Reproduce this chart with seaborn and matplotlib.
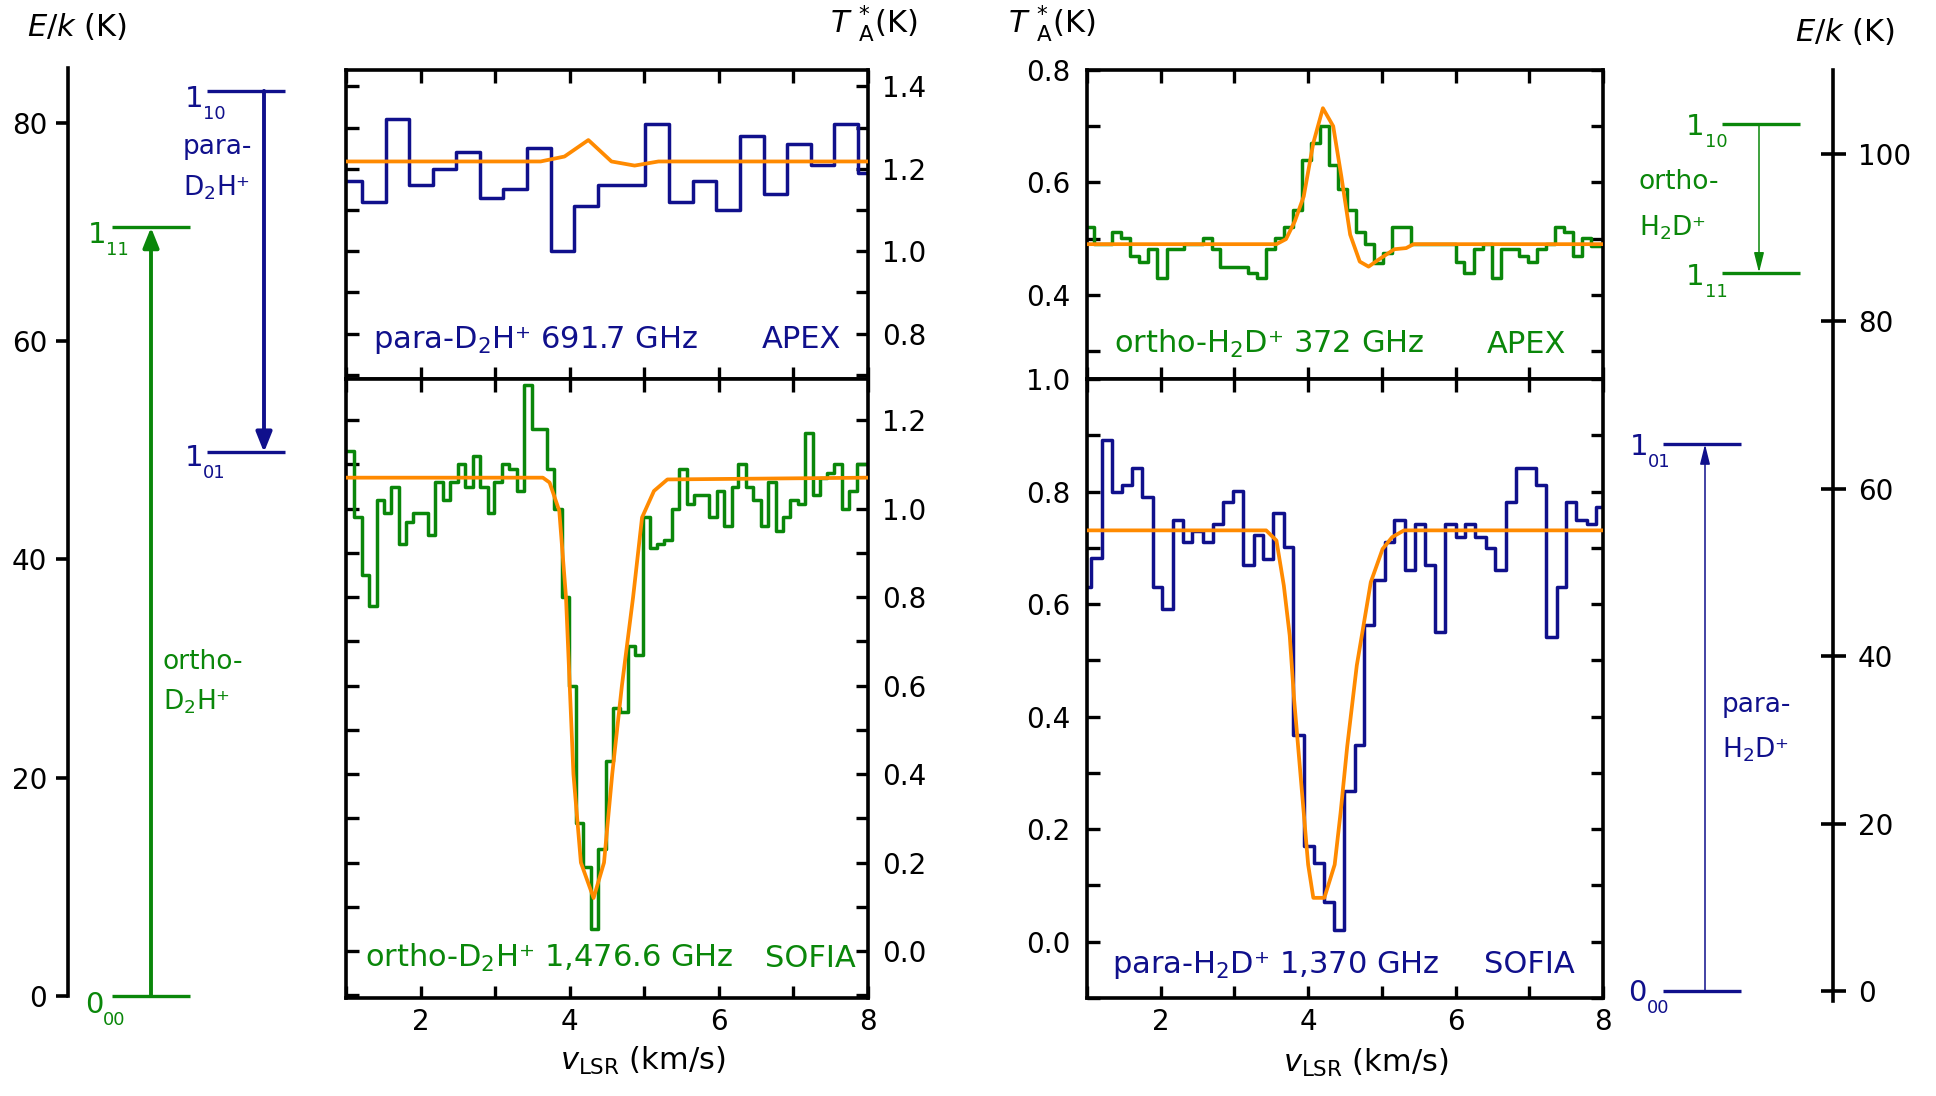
import matplotlib
matplotlib.use("Agg")
import matplotlib.pyplot as plt
from matplotlib.ticker import MultipleLocator, FixedLocator, FormatStrFormatter
import pandas as pd
import seaborn as sns

# ---------------- data ----------------
# para-D2H+ 691.7 GHz (APEX): channel edges (km/s) and antenna temperature (K)
pD2H_edges = [0.90, 1.21, 1.53, 1.85, 2.16, 2.48, 2.80, 3.11, 3.43, 3.75, 4.06, 4.38,
              4.70, 5.01, 5.33, 5.65, 5.96, 6.28, 6.60, 6.91, 7.23, 7.55, 7.86, 8.18]
pD2H_T = [1.17, 1.12, 1.32, 1.16, 1.20, 1.24, 1.13, 1.15, 1.25, 1.00, 1.11, 1.16,
          1.16, 1.31, 1.12, 1.17, 1.10, 1.28, 1.14, 1.26, 1.21, 1.31, 1.19]
pD2H_fit_v = [1.0, 3.61, 3.93, 4.25, 4.56, 4.87, 5.19, 8.0]
pD2H_fit_T = [1.218, 1.218, 1.23, 1.27, 1.218, 1.208, 1.218, 1.218]

# ortho-D2H+ 1,476.6 GHz (SOFIA)
oD2H_edges = [0.91, 1.01, 1.11, 1.21, 1.31, 1.41, 1.51, 1.61, 1.71, 1.81, 1.90, 2.00,
              2.10, 2.20, 2.30, 2.40, 2.50, 2.60, 2.70, 2.80, 2.90, 2.99, 3.09, 3.19,
              3.29, 3.39, 3.49, 3.59, 3.69, 3.79, 3.89, 3.99, 4.09, 4.18, 4.28, 4.38,
              4.48, 4.58, 4.68, 4.78, 4.88, 4.98, 5.08, 5.17, 5.27, 5.37, 5.47, 5.57,
              5.67, 5.77, 5.87, 5.97, 6.07, 6.17, 6.26, 6.36, 6.46, 6.56, 6.66, 6.76,
              6.86, 6.96, 7.06, 7.16, 7.26, 7.36, 7.45, 7.55, 7.65, 7.75, 7.85, 7.95, 8.05]
oD2H_T = [1.13, 1.13, 0.98, 0.85, 0.78, 1.02, 0.99, 1.05, 0.92, 0.97, 0.99, 0.99,
          0.94, 1.06, 1.02, 1.06, 1.10, 1.05, 1.12, 1.05, 0.99, 1.06, 1.10, 1.09,
          1.04, 1.28, 1.18, 1.18, 1.09, 1.00, 0.80, 0.60, 0.29, 0.19, 0.05, 0.23,
          0.43, 0.55, 0.54, 0.69, 0.67, 0.98, 0.91, 0.92, 0.93, 1.00, 1.09, 1.01,
          1.03, 1.03, 0.98, 1.04, 0.96, 1.05, 1.10, 1.05, 1.02, 0.96, 1.06, 0.95,
          0.98, 1.02, 1.01, 1.17, 1.03, 1.07, 1.08, 1.10, 1.00, 1.04, 1.10, 1.10]
oD2H_fit_v = [1.0, 3.64, 3.73, 3.86, 3.95, 4.00, 4.05, 4.15, 4.32, 4.46, 4.57, 4.70,
              4.85, 4.97, 5.13, 5.31, 8.0]
oD2H_fit_T = [1.07, 1.07, 1.059, 0.995, 0.80, 0.60, 0.40, 0.20, 0.12, 0.20, 0.40, 0.60,
              0.80, 0.98, 1.04, 1.066, 1.07]

# ortho-H2D+ 372 GHz (APEX)
oH2D_edges = [0.97, 1.10, 1.22, 1.34, 1.46, 1.59, 1.71, 1.83, 1.95, 2.08, 2.20, 2.32,
              2.44, 2.57, 2.69, 2.81, 2.94, 3.06, 3.18, 3.30, 3.43, 3.55, 3.67, 3.79,
              3.92, 4.04, 4.16, 4.28, 4.41, 4.53, 4.65, 4.77, 4.90, 5.02, 5.14, 5.26,
              5.39, 5.51, 5.63, 5.75, 5.88, 6.00, 6.12, 6.25, 6.37, 6.49, 6.61, 6.74,
              6.86, 6.98, 7.10, 7.23, 7.35, 7.47, 7.59, 7.72, 7.84, 7.96, 8.08]
oH2D_T = [0.520, 0.490, 0.490, 0.511, 0.501, 0.469, 0.459, 0.481, 0.430, 0.481, 0.481, 0.490,
          0.490, 0.501, 0.481, 0.450, 0.450, 0.450, 0.439, 0.430, 0.481, 0.501, 0.520, 0.551,
          0.640, 0.670, 0.700, 0.631, 0.588, 0.551, 0.511, 0.490, 0.456, 0.475, 0.520, 0.520,
          0.490, 0.490, 0.490, 0.490, 0.490, 0.459, 0.439, 0.481, 0.490, 0.430, 0.481, 0.481,
          0.469, 0.459, 0.481, 0.490, 0.520, 0.511, 0.469, 0.501, 0.486, 0.486]
oH2D_fit_v = [1.0, 3.57, 3.70, 3.82, 3.94, 4.07, 4.20, 4.34, 4.45, 4.57, 4.70, 4.82,
              4.95, 5.17, 5.33, 5.43, 8.0]
oH2D_fit_T = [0.49, 0.49, 0.499, 0.531, 0.575, 0.67, 0.732, 0.70, 0.611, 0.507, 0.459, 0.45,
              0.462, 0.481, 0.483, 0.49, 0.49]

# para-H2D+ 1,370 GHz (SOFIA)
pH2D_edges = [0.93, 1.06, 1.20, 1.34, 1.48, 1.61, 1.75, 1.89, 2.02, 2.16, 2.30, 2.43,
              2.57, 2.71, 2.85, 2.98, 3.12, 3.26, 3.39, 3.53, 3.67, 3.80, 3.94, 4.08,
              4.22, 4.35, 4.49, 4.63, 4.76, 4.90, 5.04, 5.17, 5.31, 5.45, 5.59, 5.72,
              5.86, 6.00, 6.13, 6.27, 6.41, 6.54, 6.68, 6.82, 6.96, 7.09, 7.23, 7.37,
              7.50, 7.64, 7.78, 7.91, 8.05]
pH2D_T = [0.630, 0.682, 0.892, 0.800, 0.812, 0.841, 0.791, 0.630, 0.592, 0.750, 0.710, 0.729,
          0.710, 0.743, 0.782, 0.801, 0.670, 0.723, 0.680, 0.762, 0.701, 0.368, 0.170, 0.140,
          0.070, 0.021, 0.268, 0.350, 0.562, 0.642, 0.711, 0.750, 0.660, 0.743, 0.670, 0.550,
          0.743, 0.720, 0.743, 0.720, 0.700, 0.660, 0.782, 0.841, 0.841, 0.811, 0.541, 0.630,
          0.782, 0.750, 0.743, 0.773]
pH2D_fit_v = [1.0, 3.43, 3.57, 3.67, 3.75, 3.81, 4.00, 4.07, 4.22, 4.36, 4.44, 4.53,
              4.66, 4.85, 5.01, 5.14, 5.30, 8.0]
pH2D_fit_T = [0.731, 0.731, 0.713, 0.633, 0.544, 0.43, 0.137, 0.078, 0.078, 0.137, 0.229, 0.347,
              0.491, 0.639, 0.698, 0.719, 0.731, 0.731]

# energy levels E/k (K) and their J_KaKc labels
D2H_ortho_E = [0.0, 70.4]                 # 0_00, 1_11
D2H_ortho_lab = [('0', '00'), ('1', '11')]
D2H_para_E = [49.8, 82.9]                 # 1_01, 1_10
D2H_para_lab = [('1', '01'), ('1', '10')]
H2D_ortho_E = [85.8, 103.5]               # 1_11, 1_10
H2D_ortho_lab = [('1', '11'), ('1', '10')]
H2D_para_E = [0.0, 65.3]                  # 0_00, 1_01
H2D_para_lab = [('0', '00'), ('1', '01')]

# ---------------- style ----------------
NAVY = '#10108c'
GREEN = '#0a870a'
ORANGE = '#ff8a00'
W, H = 1936, 1096
D2H = 'D$_2$H\u207a'
H2D = 'H$_2$D\u207a'

sns.set_style('ticks')
plt.rcParams['font.family'] = ['DejaVu Sans']
plt.rcParams['mathtext.fontset'] = 'dejavusans'

fig = plt.figure(figsize=(W / 100, H / 100), dpi=100)


def fx(px):
    return px / W


def fy(py):
    return 1 - py / H


def spectrum(ax, edges, T, color):
    df = pd.DataFrame({'v': edges, 'T': list(T) + [T[-1]]})
    sns.lineplot(data=df, x='v', y='T', ax=ax, color=color, lw=2.5,
                 drawstyle='steps-post', estimator=None, sort=False, legend=False)


def fitline(ax, v, T):
    df = pd.DataFrame({'v': v, 'T': T})
    sns.lineplot(data=df, x='v', y='T', ax=ax, color=ORANGE, lw=2.7,
                 estimator=None, sort=False, legend=False, zorder=4)


def style_panel(ax, ylim, label_side, show_x):
    ax.set_xlim(1, 8)
    ax.set_ylim(*ylim)
    ax.set_xlabel('')
    ax.set_ylabel('')
    ax.xaxis.set_major_locator(FixedLocator([2, 4, 6, 8]))
    ax.xaxis.set_minor_locator(FixedLocator([1, 3, 5, 7]))
    ax.yaxis.set_major_locator(MultipleLocator(0.2))
    ax.yaxis.set_minor_locator(MultipleLocator(0.1))
    ax.yaxis.set_major_formatter(FormatStrFormatter('%.1f'))
    ax.xaxis.set_major_formatter(FormatStrFormatter('%d'))
    ax.tick_params(which='both', direction='in', top=True, bottom=True, left=True,
                   right=True, length=9, width=2.4, labelsize=20, colors='black')
    ax.tick_params(axis='y', labelleft=(label_side == 'left'),
                   labelright=(label_side == 'right'),
                   pad=(10 if label_side == 'right' else 12))
    ax.tick_params(axis='x', labelbottom=show_x, labeltop=False, pad=7)
    for s in ax.spines.values():
        s.set_linewidth(2.6)
        s.set_color('black')


# ---------------- spectral panels ----------------
axTL = fig.add_axes([fx(346), fy(379), fx(868) - fx(346), fy(70) - fy(379)])
axBL = fig.add_axes([fx(346), fy(998), fx(868) - fx(346), fy(379) - fy(998)])
axTR = fig.add_axes([fx(1087), fy(379), fx(1603) - fx(1087), fy(70) - fy(379)])
axBR = fig.add_axes([fx(1087), fy(998), fx(1603) - fx(1087), fy(379) - fy(998)])

spectrum(axTL, pD2H_edges, pD2H_T, NAVY)
fitline(axTL, pD2H_fit_v, pD2H_fit_T)
style_panel(axTL, (0.69, 1.44), 'right', False)

spectrum(axBL, oD2H_edges, oD2H_T, GREEN)
fitline(axBL, oD2H_fit_v, oD2H_fit_T)
style_panel(axBL, (-0.106, 1.293), 'right', True)

spectrum(axTR, oH2D_edges, oH2D_T, GREEN)
fitline(axTR, oH2D_fit_v, oH2D_fit_T)
style_panel(axTR, (0.25, 0.80), 'left', False)

spectrum(axBR, pH2D_edges, pH2D_T, NAVY)
fitline(axBR, pH2D_fit_v, pH2D_fit_T)
style_panel(axBR, (-0.10, 1.00), 'left', True)

# panel annotations
ptxt = dict(fontsize=22, va='baseline')
fig.text(fx(373), fy(348), 'para-' + D2H + ' 691.7 GHz', color=NAVY, ha='left', **ptxt)
fig.text(fx(841), fy(348), 'APEX', color=NAVY, ha='right', **ptxt)
fig.text(fx(365), fy(967), 'ortho-' + D2H + ' 1,476.6 GHz', color=GREEN, ha='left', **ptxt)
fig.text(fx(856), fy(967), 'SOFIA', color=GREEN, ha='right', **ptxt)
fig.text(fx(1114), fy(353), 'ortho-' + H2D + ' 372 GHz', color=GREEN, ha='left', **ptxt)
fig.text(fx(1566), fy(353), 'APEX', color=GREEN, ha='right', **ptxt)
fig.text(fx(1112), fy(973), 'para-' + H2D + ' 1,370 GHz', color=NAVY, ha='left', **ptxt)
fig.text(fx(1575), fy(973), 'SOFIA', color=NAVY, ha='right', **ptxt)

# axis titles
lab = dict(fontsize=22, va='baseline', color='black')
fig.text(fx(27), fy(36), r'$E/k$ (K)', ha='left', **lab)
fig.text(fx(1895), fy(41), r'$E/k$ (K)', ha='right', **lab)
fig.text(fx(830), fy(33), r'$T\ {}^{*}_{\mathrm{A}}$(K)', ha='left', **lab)
fig.text(fx(1008), fy(33), r'$T\ {}^{*}_{\mathrm{A}}$(K)', ha='left', **lab)
fig.text(fx(643), fy(1070), r'$v_{\mathrm{LSR}}$ (km/s)', ha='center', **lab)
fig.text(fx(1366), fy(1072), r'$v_{\mathrm{LSR}}$ (km/s)', ha='center', **lab)

# ---------------- energy level diagrams ----------------
axEL = fig.add_axes([fx(68), fy(996), fx(330) - fx(68), fy(68) - fy(996)])
axEL.set_xlim(68, 330)
axEL.set_ylim(0, 85)
axEL.patch.set_visible(False)
for s in ['top', 'right', 'bottom']:
    axEL.spines[s].set_visible(False)
axEL.spines['left'].set_linewidth(2.6)
axEL.spines['left'].set_color('black')
axEL.set_xticks([])
axEL.set_yticks([0, 20, 40, 60, 80])
axEL.tick_params(axis='y', direction='out', length=9, width=2.6, labelsize=20, pad=6,
                 left=True, colors='black')

axER = fig.add_axes([fx(1600), fy(1001), fx(1833) - fx(1600), fy(70) - fy(1001)])
axER.set_xlim(1600, 1833)
axER.set_ylim(-1.2, 110)
axER.patch.set_visible(False)
for s in ['top', 'left', 'bottom']:
    axER.spines[s].set_visible(False)
axER.spines['right'].set_linewidth(2.6)
axER.spines['right'].set_color('black')
axER.set_xticks([])
axER.yaxis.tick_right()
axER.set_yticks([0, 20, 40, 60, 80, 100])
axER.tick_params(axis='y', direction='inout', length=18, width=2.6, labelsize=20, pad=9,
                 right=True, left=False, colors='black')


def levels(ax, E, x0, x1, color, lw):
    ax.hlines(E, x0, x1, color=color, lw=lw, clip_on=False)


def transition(ax, x, E_from, E_to, color, lw, hw):
    ax.annotate('', xy=(x, E_to), xytext=(x, E_from), annotation_clip=False,
                arrowprops=dict(arrowstyle=f'-|>,head_length=0.6,head_width={hw}',
                                mutation_scale=20, lw=lw, color=color,
                                shrinkA=0, shrinkB=0))


levels(axEL, D2H_ortho_E, 112, 190, GREEN, 2.4)
levels(axEL, D2H_para_E, 207, 285, NAVY, 2.4)
transition(axEL, 151, D2H_ortho_E[0], D2H_ortho_E[1], GREEN, 2.8, 0.24)
transition(axEL, 264, D2H_para_E[1], D2H_para_E[0], NAVY, 2.8, 0.24)

levels(axER, H2D_ortho_E, 1722, 1800, GREEN, 2.4)
levels(axER, H2D_para_E, 1663, 1741, NAVY, 2.4)
transition(axER, 1759, H2D_ortho_E[1], H2D_ortho_E[0], GREEN, 1.1, 0.15)
transition(axER, 1705, H2D_para_E[0], H2D_para_E[1], NAVY, 1.1, 0.15)


# level labels: main digit + lowered subscript (pixel positions, baselines)
def level_label(lab, x, base, xsub, color):
    fig.text(fx(x), fy(base), lab[0], color=color, fontsize=21, ha='left', va='baseline')
    fig.text(fx(xsub), fy(base + 12), lab[1], color=color, fontsize=13, ha='left',
             va='baseline')


level_label(D2H_ortho_lab[0], 85, 1013, 103, GREEN)
level_label(D2H_ortho_lab[1], 88, 243, 106, GREEN)
level_label(D2H_para_lab[0], 185, 466, 203, NAVY)
level_label(D2H_para_lab[1], 185, 107, 203, NAVY)
level_label(H2D_ortho_lab[0], 1686, 285, 1705, GREEN)
level_label(H2D_ortho_lab[1], 1686, 135, 1705, GREEN)
level_label(H2D_para_lab[0], 1628, 1001, 1647, NAVY)
level_label(H2D_para_lab[1], 1630, 455, 1648, NAVY)

stxt = dict(fontsize=19, va='baseline', ha='left')
fig.text(fx(183), fy(154), 'para-', color=NAVY, **stxt)
fig.text(fx(183), fy(196), D2H, color=NAVY, **stxt)
fig.text(fx(163), fy(669), 'ortho-', color=GREEN, **stxt)
fig.text(fx(163), fy(710), D2H, color=GREEN, **stxt)
fig.text(fx(1639), fy(189), 'ortho-', color=GREEN, **stxt)
fig.text(fx(1639), fy(236), H2D, color=GREEN, **stxt)
fig.text(fx(1722), fy(712), 'para-', color=NAVY, **stxt)
fig.text(fx(1722), fy(758), H2D, color=NAVY, **stxt)

fig.savefig('out.png', dpi=100)
